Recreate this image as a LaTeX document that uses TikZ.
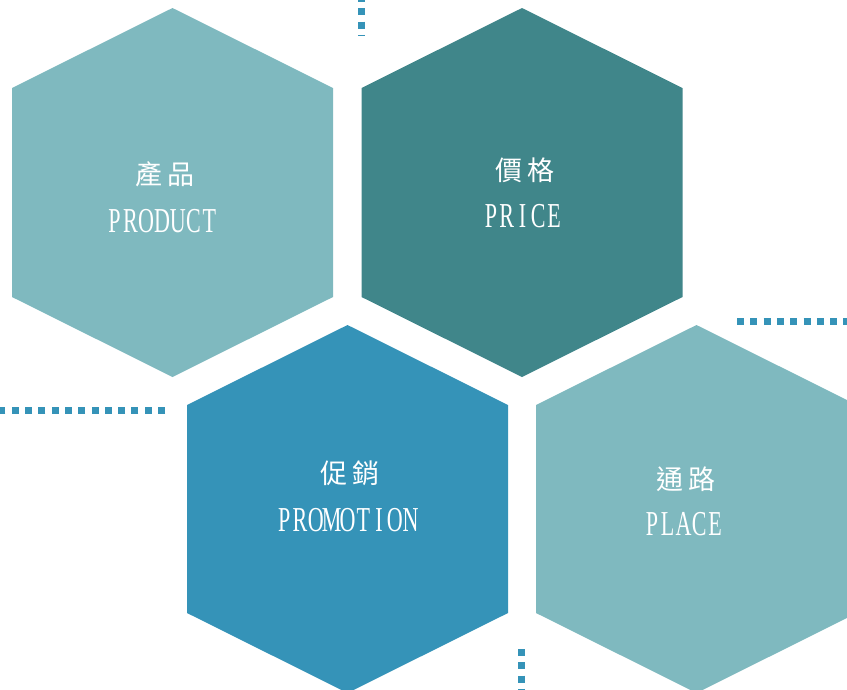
\documentclass[tikz,border=0pt]{standalone}
\usepackage{fontspec}
\setmainfont{Liberation Serif}
\newfontfamily\narrowserif[FakeStretch=0.63]{Liberation Serif}
\newfontfamily\cjk[LetterSpace=22]{Noto Sans CJK TC}
\definecolor{lightteal}{RGB}{127,185,191}
\definecolor{darkteal}{RGB}{64,134,138}
\definecolor{oceanblue}{RGB}{53,147,184}
\makeatletter
\newcommand\evenletters[1]{\@tfor\ch:=#1\do{\makebox[15.8pt]{\ch}}}
\makeatother

\begin{document}
\begin{tikzpicture}[x=1pt,y=1pt,yscale=-1,xscale=1,
		zhlabel/.style={text=white,inner sep=0pt,font=\cjk\fontsize{27}{27}\selectfont},
		enlabel/.style={text=white,inner sep=0pt,font=\narrowserif\fontsize{35}{35}\selectfont},
		dotrow/.style={draw=oceanblue,line width=7pt,dash pattern=on 7pt off 6.3pt}]
			\useasboundingbox (0,0) rectangle (847,689);
			\clip (0,0) rectangle (847,689);
			
			%Shape: Hexagon [product]
			\fill [lightteal] (172.5,8) -- (333,88) -- (333,297) -- (172.5,377) -- (12,297) -- (12,88) -- cycle ;
			%Shape: Hexagon [price]
			\fill [darkteal] (522,8) -- (682.5,88) -- (682.5,297) -- (522,377) -- (361.5,297) -- (361.5,88) -- cycle ;
			%Shape: Hexagon [promotion]
			\fill [oceanblue] (347.5,325) -- (508,405) -- (508,613) -- (347.5,693) -- (187,613) -- (187,405) -- cycle ;
			%Shape: Hexagon [place]
			\fill [lightteal] (696.5,325) -- (857,405) -- (857,613) -- (696.5,693) -- (536,613) -- (536,405) -- cycle ;
			
			%Dotted Lines
			\draw [dotrow] (361.5,-5) -- (361.5,35.5) ;
			\draw [dotrow] (737,321.5) -- (852,321.5) ;
			\draw [dotrow] (165,410.5) -- (-5,410.5) ;
			\draw [dotrow] (521.5,649) -- (521.5,694) ;
			
			% Text Node
			\node [zhlabel] (prodzh) at (165,174) {產品};
			% Text Node
			\node [enlabel] (proden) at (162,221) {\evenletters{PRODUCT}};
			% Text Node
			\node [zhlabel] (pricezh) at (525,170) {價格};
			% Text Node
			\node [enlabel] (priceen) at (522.5,216) {\evenletters{PRICE}};
			% Text Node
			\node [zhlabel] (promozh) at (350,473) {促銷};
			% Text Node
			\node [enlabel] (promoen) at (347.5,520) {\evenletters{PROMOTION}};
			% Text Node
			\node [zhlabel] (placezh) at (686,479) {通路};
			% Text Node
			\node [enlabel] (placeen) at (683.5,524) {\evenletters{PLACE}};
			
		\end{tikzpicture}
\end{document}
